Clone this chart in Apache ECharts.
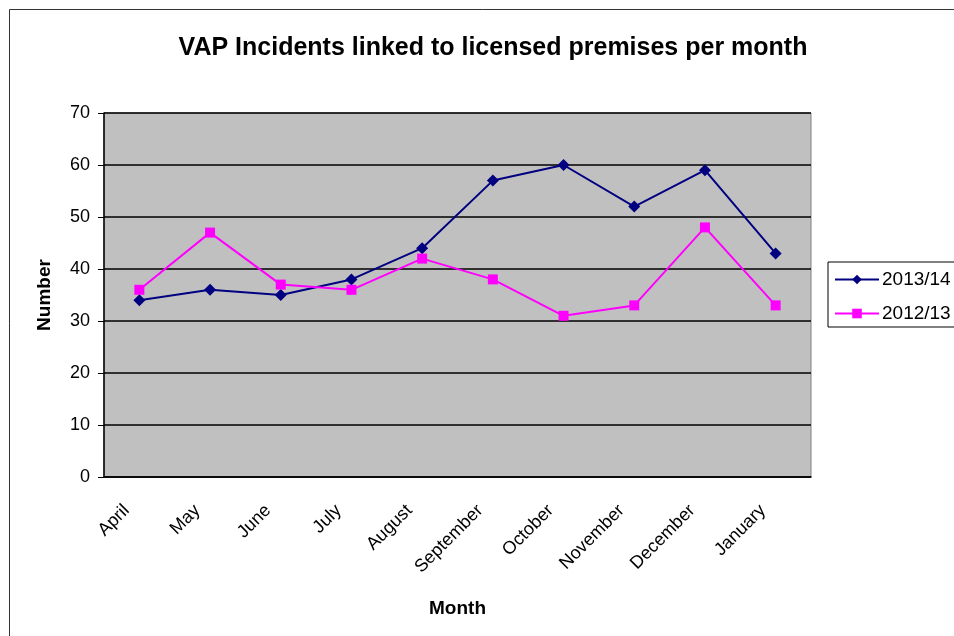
<!DOCTYPE html>
<html>
<head>
<meta charset="utf-8">
<script src="https://cdn.jsdelivr.net/npm/echarts@6/dist/echarts.min.js"></script>
<style>
  html, body { margin: 0; padding: 0; background: #fff; }
  #chart { width: 954px; height: 636px; }
</style>
</head>
<body>
<div id="chart"></div>
<script>
const months = ['April', 'May', 'June', 'July', 'August', 'September', 'October', 'November', 'December', 'January']
const y2013 = [34, 36, 35, 38, 44, 57, 60, 52, 59, 43]
const y2012 = [36, 47, 37, 36, 42, 38, 31, 33, 48, 33]

const font = '"Liberation Sans", Arial, sans-serif'

const chart = echarts.init(document.getElementById('chart'))

chart.setOption({
  animation: false,
  textStyle: { fontFamily: font },
  graphic: [{
    type: 'rect',
    shape: { x: 9.5, y: 9.5, width: 1000, height: 700 },
    style: { fill: 'none', stroke: '#333', lineWidth: 1 },
    z: -1
  }],
  title: {
    text: 'VAP Incidents linked to licensed premises per month',
    left: 488,
    textAlign: 'center',
    top: 31,
    textStyle: { fontSize: 25, fontWeight: 'bold', color: '#000', fontFamily: font }
  },
  legend: {
    orient: 'vertical',
    left: 828,
    top: 262,
    padding: [8, 10, 4, 6],
    itemGap: 15,
    itemWidth: 44,
    itemHeight: 12,
    borderColor: '#000',
    borderWidth: 1,
    textStyle: { fontSize: 19, color: '#000', fontFamily: font, padding: [0, 0, 0, -2] },
    data: ['2013/14', '2012/13']
  },
  grid: {
    left: 104,
    right: 143,
    top: 113,
    bottom: 159,
    show: true,
    backgroundColor: '#c0c0c0',
    borderColor: '#808080',
    borderWidth: 1
  },
  xAxis: {
    type: 'category',
    data: months,
    boundaryGap: true,
    name: 'Month',
    nameLocation: 'middle',
    nameGap: 122,
    nameTextStyle: { fontSize: 19, fontWeight: 'bold', color: '#000' },
    axisLine: { lineStyle: { color: '#000', width: 1.5 } },
    axisTick: { length: 6, lineStyle: { color: '#000' } },
    axisLabel: { rotate: 45, fontSize: 18, color: '#000', margin: 18, padding: [0, 18, 0, 0], interval: 0 },
    splitLine: { show: false }
  },
  yAxis: {
    type: 'value',
    min: 0,
    max: 70,
    interval: 10,
    name: 'Number',
    nameLocation: 'middle',
    nameRotate: 90,
    nameGap: 50,
    nameTextStyle: { fontSize: 19, fontWeight: 'bold', color: '#000' },
    axisLine: { show: true, lineStyle: { color: '#000', width: 1.5 } },
    axisTick: { show: true, length: 6, lineStyle: { color: '#000' } },
    axisLabel: { fontSize: 18, color: '#000', margin: 14 },
    splitLine: { lineStyle: { color: '#000', width: 1.5 } }
  },
  series: [{
    name: '2013/14',
    type: 'line',
    data: y2013,
    symbol: 'diamond',
    symbolSize: 12,
    itemStyle: { color: '#000080' },
    lineStyle: { color: '#000080', width: 2 }
  }, {
    name: '2012/13',
    type: 'line',
    data: y2012,
    symbol: 'rect',
    symbolSize: 10,
    itemStyle: { color: '#ff00ff' },
    lineStyle: { color: '#ff00ff', width: 2 }
  }]
})
</script>
</body>
</html>
